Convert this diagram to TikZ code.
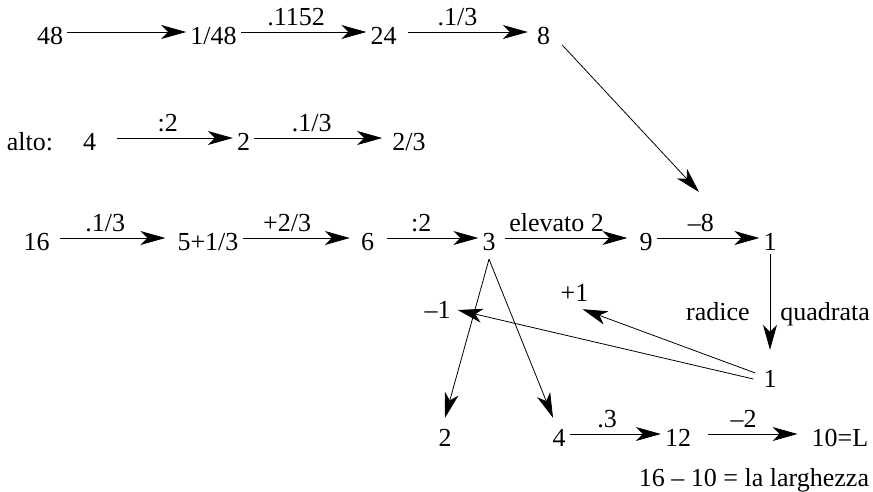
\documentclass[tikz,border=0pt]{standalone}
\usepackage{fontspec}
\setmainfont{Liberation Serif}
\usetikzlibrary{arrows.meta}
\begin{document}
\begin{tikzpicture}[x=1pt, y=-1pt,
    every node/.style={font=\fontsize{26}{30}\selectfont, anchor=base, inner sep=4pt, text height=24pt, text depth=0pt},
    arr/.style={-{Stealth[length=25pt, width=14pt, inset=7pt]}, line width=0.8pt},
    lbl/.style={pos=0.43, anchor=south, inner xsep=0pt, inner ysep=6pt}]
    \useasboundingbox (0,0) rectangle (873,491);

    % first row
    \node (a48) at (50,44) {48};
    \node (a148) at (213.5,44) {1/48};
    \node (a24) at (383.5,44) {24};
    \node (a8) at (543.5,44) {8};
    \coordinate (sq) at (699,192);
    \draw[arr] (a48) -- (a148);
    \draw[arr] (a148) -- node[lbl, pos=0.44] {.1152} (a24);
    \draw[arr, shorten <=7pt, shorten >=5pt] (a24) -- node[lbl] {.1/3} (a8);
    \draw[arr] ([shift={(8,13)}]a8.east) -- (sq);

    % alto
    \node (alto) at (30,150) {alto:};
    \node (b4) at (89.5,150) {4};
    \node (b2) at (243.5,150) {2};
    \node (b23) at (409,150) {2/3};
    \draw[arr, shorten <=17pt] (b4) -- node[lbl, pos=0.51] {:2} (b2);
    \draw[arr, shorten >=6pt] (b2) -- node[lbl] {.1/3} (b23);

    % third row
    \node (c16) at (36.5,250) {16};
    \node (c5) at (208,250) {5+1/3};
    \node (c6) at (367.5,250) {6};
    \node (c3) at (489,250) {3};
    \node (c9) at (646,250) {9};
    \node (r1t) at (770,250) {1};
    \draw[arr, shorten <=6pt, shorten >=8pt] (c16) -- node[lbl] {.1/3} (c5);
    \draw[arr, shorten >=7pt] (c5) -- node[lbl, pos=0.39] {+2/3} (c6);
    \draw[arr, shorten <=9pt] (c6) -- node[lbl] {:2} (c3);
    \draw[arr, shorten <=5pt, shorten >=8pt] (c3) -- node[lbl, pos=0.42] {elevato 2} (c9);
    \draw[arr] (c9) -- node[lbl] {--8} (r1t);

    % radice quadrata
    \node (pl1) at (574.5,301) {+1};
    \node (m1) at (437.5,318) {--1};
    \node (r1b) at (770,387) {1};
    \draw[arr, shorten >=9pt] (r1t) --
        node[pos=0.63, anchor=base east, inner sep=0pt, xshift=-20pt] {radice}
        node[pos=0.63, anchor=base west, inner sep=0pt, xshift=10pt] {quadrata} (r1b);
    \draw[arr] ([shift={(-6,4)}]r1b.west) -- ([shift={(3,4)}]m1.east);
    \draw[arr] ([shift={(-4,-2)}]r1b.west) -- ([shift={(8,4)}]pl1.south);

    % last row
    \node (d2) at (445,446) {2};
    \node (d4) at (559,446) {4};
    \node (d12) at (678,446) {12};
    \node (d10) at (840,446) {10=L};
    \node (wid) at (754,486) {16 -- 10 = la larghezza};
    \draw[arr] ([yshift=-5pt]c3.south) -- (d2.north);
    \draw[arr] ([yshift=-5pt]c3.south) -- ([xshift=-6pt]d4.north);
    \draw[arr] (d4) -- node[lbl, pos=0.41] {.3} (d12);
    \draw[arr, shorten <=13pt, shorten >=10pt] (d12) -- node[lbl] {--2} (d10);
\end{tikzpicture}
\end{document}
